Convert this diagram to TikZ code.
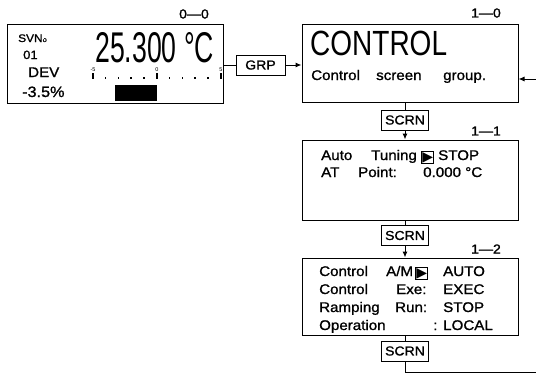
\documentclass[tikz,border=0pt]{standalone}
\usepackage{fontspec}
\setmainfont{Liberation Sans}
\newfontfamily\panelfont[FakeStretch=1.08, FakeBold=1.2]{Liberation Sans}
\newfontfamily\lcdfont[FakeStretch=0.62]{Liberation Sans}
\newfontfamily\titlefont[FakeStretch=0.8]{Liberation Sans}
\newfontfamily\symfont{DejaVu Sans}
\usetikzlibrary{arrows.meta,positioning}

\newcommand\selmark{{\setlength\fboxsep{0.2pt}\setlength\fboxrule{0.9pt}\fbox{\symfont\fontsize{14}{14}\selectfont ▶}}}

\begin{document}
\begin{tikzpicture}[x=1pt, y=-1pt,
  screen/.style={draw, line width=1pt, minimum width=216pt, inner sep=0pt},
  key/.style={draw, line width=1pt, minimum width=47pt, minimum height=20pt, inner sep=0pt, font=\panelfont\fontsize{13}{14}\selectfont},
  tag/.style={font=\panelfont\fontsize{13}{14}\selectfont, inner sep=0pt},
  panel/.style={anchor=base west, inner sep=0pt, font=\panelfont\fontsize{14}{16}\selectfont},
  lcd/.style={anchor=base west, inner sep=0pt, text depth=0pt, font=\lcdfont\fontsize{43}{44}\selectfont},
  arrow/.style={-{Latex[length=6pt,width=5pt]}, line width=1pt},
  link/.style={line width=1pt}
]
\useasboundingbox (0,0) rectangle (536,376);
% screens
\node[screen, minimum height=79pt] (disp) at (115,63.5) {};
\node[screen, minimum height=78pt] (ctrl) at (410,63) {};
\node[screen, minimum height=80pt] (tune) at (410,180) {};
\node[screen, minimum height=77pt] (mode) at (410,296.5) {};
\node[tag] (t00) at (194,14) {0—0};
\node[tag] (t10) at (486,13) {1—0};
\node[tag] (t11) at (486,131) {1—1};
\node[tag] (t12) at (486,249) {1—2};
% keys
\node[key, minimum width=49pt] (grp) at (260.5,65) {GRP};
\node[key] (scrn1) at (405,120) {SCRN};
\node[key] (scrn2) at (405,235.5) {SCRN};
\node[key] (scrn3) at (405,351) {SCRN};
% measured value screen
\node[panel, font=\panelfont\fontsize{11}{12}\selectfont] (svno) at (18,42) {SVN{\fontsize{7}{7}\selectfont o}};
\node[panel, font=\panelfont\fontsize{12}{13}\selectfont] (svnum) at (23,59) {01};
\node[panel] (devlbl) at (28,77) {DEV};
\node[panel, font=\panelfont\fontsize{15}{16}\selectfont] (devval) at (22,97) {-3.5\%};
\node[lcd] (pv) at (95,62) {25.300};
\node[lcd] (pvunit) at (184,62) {°C};
\foreach \v [count=\i from 0] in {-5,0,5}
  \node[tag, font=\fontsize{5.5}{5.5}\selectfont] (sc\i) at (93+64*\i,70) {\v};
\foreach \i in {0,...,10}
  \fill (92+12.8*\i,77) rectangle ++(1.6,2);
\foreach \i in {0,5,10}
  \fill (92+12.8*\i,73) rectangle ++(1.6,6);
\fill (115,85) rectangle (157,101);
% control group screen
\node[anchor=base west, inner sep=0pt, font=\titlefont\fontsize{35}{36}\selectfont] (ctitle) at (310,55) {CONTROL};
\node[panel] (cw1) at (311,80) {Control};
\node[panel] (cw2) at (376,80) {screen};
\node[panel] (cw3) at (443,80) {group.};
% auto tuning screen
\node[panel] (at1) at (321,160) {Auto};
\node[panel] (at2) at (371,160) {Tuning};
\node[panel] (sel1) at (421,161) {\selmark};
\node[panel] (at3) at (438,160) {STOP};
\node[panel] (ap1) at (321,177) {AT};
\node[panel] (ap2) at (358,177) {Point:};
\node[panel] (ap3) at (423,177) {0.000 °C};
% mode screen
\node[panel] (am1) at (319,276) {Control};
\node[panel] (am2) at (386,276) {A/M};
\node[panel] (sel2) at (415,277) {\selmark};
\node[panel] (am3) at (443,276) {AUTO};
\node[panel] (ex1) at (319,294) {Control};
\node[panel] (ex2) at (396,294) {Exe:};
\node[panel] (ex3) at (443,294) {EXEC};
\node[panel] (rp1) at (319,312) {Ramping};
\node[panel] (rp2) at (395,312) {Run:};
\node[panel] (rp3) at (443,312) {STOP};
\node[panel] (op1) at (319,330) {Operation};
\node[panel] (op2) at (433,330) {:};
\node[panel] (op3) at (443,330) {LOCAL};
% connectors
\coordinate (rtop) at (536,79);
\coordinate (rbot) at (536,372);
\draw[link] (grp.west) -- (grp.west -| disp.east);
\draw[arrow] (grp.east) -- (grp.east -| ctrl.west);
\draw[link] (scrn1.north) -- (scrn1.north |- ctrl.south);
\draw[arrow] (scrn1.south) -- (scrn1.south |- tune.north);
\draw[link] (scrn2.north) -- (scrn2.north |- tune.south);
\draw[arrow] (scrn2.south) -- (scrn2.south |- mode.north);
\draw[link] (scrn3.north) -- (scrn3.north |- mode.south);
\draw[link] (scrn3.south) |- (rbot);
\draw[arrow] (rtop) -- (rtop -| ctrl.east);
\end{tikzpicture}
\end{document}
